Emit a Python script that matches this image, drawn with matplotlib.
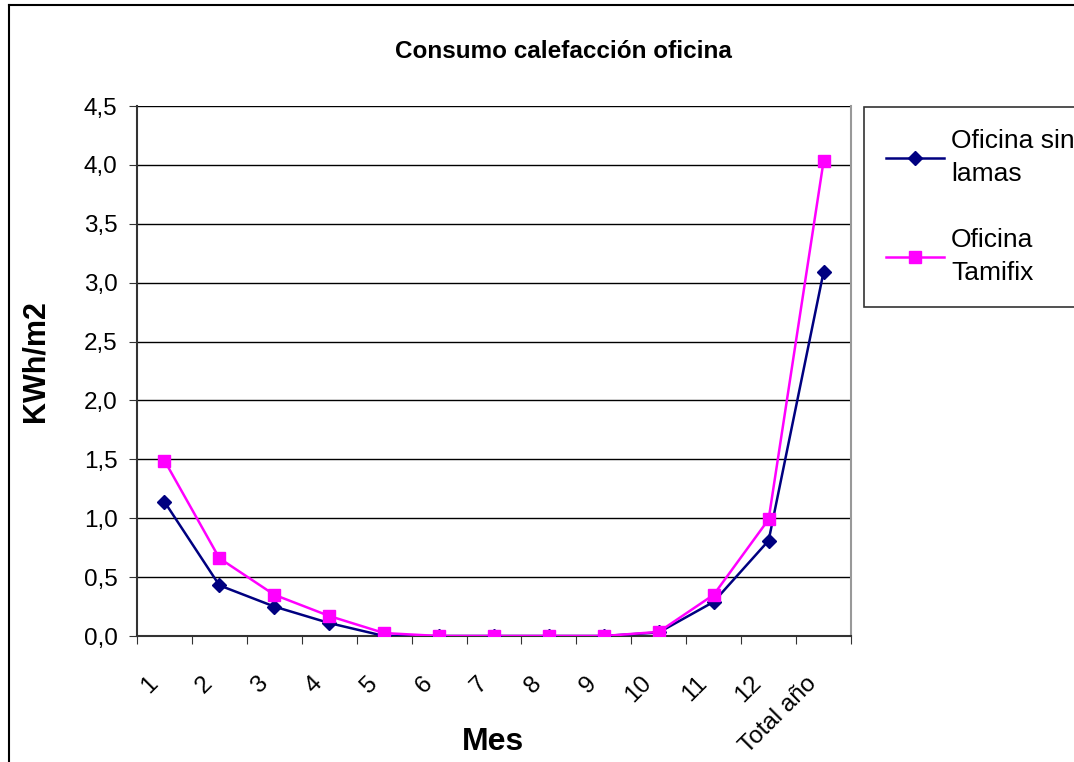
import matplotlib.pyplot as plt
from matplotlib.lines import Line2D
from matplotlib.transforms import ScaledTranslation
import numpy as np

plt.rcParams['font.family'] = ['Liberation Sans', 'DejaVu Sans']

# datos
meses = ['1', '2', '3', '4', '5', '6', '7', '8', '9', '10', '11', '12', 'Total año']
sin_lamas = [1.14, 0.43, 0.25, 0.11, 0.0, 0.0, 0.0, 0.0, 0.0, 0.03, 0.29, 0.81, 3.09]
tamifix = [1.49, 0.66, 0.35, 0.17, 0.025, 0.0, 0.0, 0.0, 0.0, 0.035, 0.35, 0.99, 4.03]
yticks = [0.0, 0.5, 1.0, 1.5, 2.0, 2.5, 3.0, 3.5, 4.0, 4.5]

W, H = 1074, 762
fig = plt.figure(figsize=(W / 100, H / 100), dpi=100)
fig.patch.set_facecolor('white')

# marco del grafico
fig.add_artist(Line2D([9 / W, 9 / W], [0, 1 - 5 / H], transform=fig.transFigure, color='black', lw=1.5))
fig.add_artist(Line2D([9 / W, 1], [1 - 5 / H, 1 - 5 / H], transform=fig.transFigure, color='black', lw=1.5))

ax = fig.add_axes([137 / W, 1 - 636 / H, (851 - 137) / W, (636 - 106) / H])
x = np.arange(len(meses))
ax.plot(x, sin_lamas, color='#000080', lw=1.8, marker='D', ms=7, label='Oficina sin\nlamas', zorder=3)
ax.plot(x, tamifix, color='#FF00FF', lw=1.8, marker='s', ms=8, label='Oficina\nTamifix', zorder=3)

ax.set_xlim(-0.5, len(meses) - 0.5)
ax.set_ylim(0, 4.5)
ax.set_yticks(yticks)
ax.set_yticklabels([('%.1f' % v).replace('.', ',') for v in yticks], fontsize=17.5)
ax.yaxis.grid(True, color='black', lw=1)
ax.set_axisbelow(True)

ax.set_xticks(np.arange(len(meses) + 1) - 0.5, minor=False)
ax.set_xticklabels([])
ax.set_xticks(x, minor=True)
ax.set_xticklabels(meses, minor=True, rotation=45, ha='right', va='top',
                   rotation_mode='anchor', fontsize=17.5)
ax.tick_params(axis='x', which='minor', length=0, pad=26)
ax.tick_params(axis='x', which='major', length=6, direction='out', color='#333333')
ax.tick_params(axis='y', length=6, direction='out', color='#333333', pad=8)
desplaz = ScaledTranslation(-0.18, 0, fig.dpi_scale_trans)
for lbl in ax.get_xticklabels(minor=True):
    lbl.set_transform(lbl.get_transform() + desplaz)

for s in ['left', 'bottom']:
    ax.spines[s].set_color('#333333')
    ax.spines[s].set_linewidth(1.5)
ax.spines['top'].set_visible(False)
ax.spines['right'].set_color('#999999')
ax.spines['right'].set_linewidth(1.5)

fig.text(36 / W, 1 - 361 / H, 'KWh/m2', rotation=90, ha='center', va='center',
         fontsize=22, fontweight='bold')
fig.text(493 / W, 1 - 742 / H, 'Mes', ha='center', va='center',
         fontsize=23, fontweight='bold')
fig.text(563 / W, 1 - 52 / H, 'Consumo calefacción oficina', ha='center', va='center',
         fontsize=17.5, fontweight='bold')

leg = fig.legend(loc='upper left', bbox_to_anchor=(864 / W, 1 - 107 / H), bbox_transform=fig.transFigure,
                 fontsize=19, frameon=True, fancybox=False, edgecolor='black',
                 handlelength=2.2, labelspacing=1.6, borderpad=0.85, handletextpad=0.25,
                 borderaxespad=0)
for t in leg.get_texts():
    t.set_linespacing(1.45)
leg.get_frame().set_linewidth(1.2)

fig.savefig('out.png', dpi=100)
